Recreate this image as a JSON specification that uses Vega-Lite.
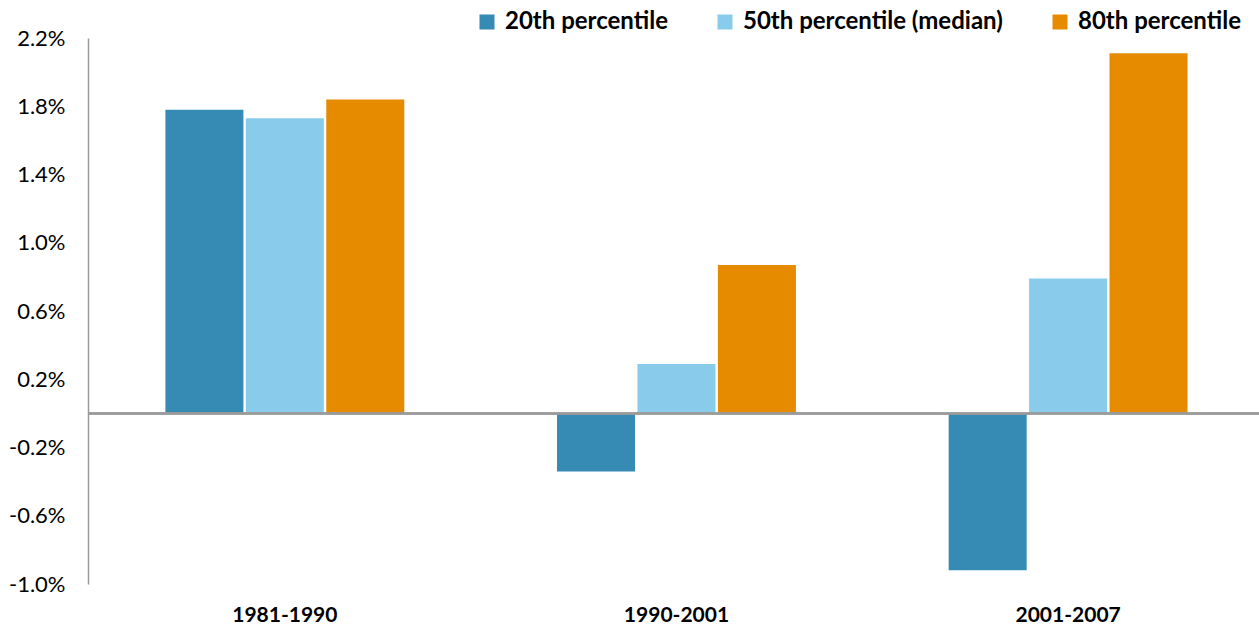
{
  "$schema": "https://vega.github.io/schema/vega-lite/v6.json",
  "width": 1171,
  "height": 546,
  "autosize": {"type": "none"},
  "padding": {"left": 88, "top": 38, "right": 0, "bottom": 42},
  "background": "white",
  "config": {
    "view": {"stroke": null},
    "font": "Lato"
  },
  "data": {
    "values": [
      {"period": "1981-1990", "series": "20th percentile", "value": 1.78},
      {"period": "1981-1990", "series": "50th percentile (median)", "value": 1.73},
      {"period": "1981-1990", "series": "80th percentile", "value": 1.84},
      {"period": "1990-2001", "series": "20th percentile", "value": -0.34},
      {"period": "1990-2001", "series": "50th percentile (median)", "value": 0.29},
      {"period": "1990-2001", "series": "80th percentile", "value": 0.87},
      {"period": "2001-2007", "series": "20th percentile", "value": -0.92},
      {"period": "2001-2007", "series": "50th percentile (median)", "value": 0.79},
      {"period": "2001-2007", "series": "80th percentile", "value": 2.11}
    ]
  },
  "layer": [
    {
      "mark": {"type": "bar"},
      "encoding": {
        "x": {
          "field": "period",
          "type": "nominal",
          "sort": null,
          "scale": {"paddingInner": 0.39, "paddingOuter": 0.19, "align": 0.52},
          "axis": {
            "title": null,
            "domain": false,
            "ticks": false,
            "labelAngle": 0,
            "labelFont": "Lato",
            "labelFontWeight": "bold",
            "labelFontSize": 21,
            "labelColor": "#000000",
            "labelPadding": 20
          }
        },
        "xOffset": {
          "field": "series",
          "type": "nominal",
          "sort": ["20th percentile", "50th percentile (median)", "80th percentile"],
          "scale": {"paddingInner": 0.03}
        },
        "y": {
          "field": "value",
          "type": "quantitative",
          "scale": {"domain": [-1.0, 2.2], "nice": false, "zero": false},
          "axis": {
            "title": null,
            "values": [-1.0, -0.6, -0.2, 0.2, 0.6, 1.0, 1.4, 1.8, 2.2],
            "labelExpr": "(datum.value < 0 ? '-' : '') + format(abs(datum.value), '.1f') + '%'",
            "grid": false,
            "ticks": false,
            "domain": true,
            "domainColor": "#9a9a9a",
            "domainWidth": 1.5,
            "labelFont": "Lato",
            "labelFontSize": 22,
            "labelColor": "#000000",
            "labelPadding": 23
          }
        },
        "color": {
          "field": "series",
          "type": "nominal",
          "scale": {
            "domain": ["20th percentile", "50th percentile (median)", "80th percentile"],
            "range": ["#358BB3", "#88CBEA", "#E68A00"]
          },
          "legend": {
            "title": null,
            "orient": "none",
            "direction": "horizontal",
            "legendX": 387,
            "legendY": -28,
            "symbolType": "square",
            "symbolSize": 225,
            "symbolStrokeWidth": 0,
            "labelFont": "Lato",
            "labelFontWeight": "bold",
            "labelFontSize": 24,
            "labelColor": "#000000",
            "labelLimit": 0,
            "labelOffset": 6,
            "columnPadding": 45
          }
        }
      }
    },
    {
      "mark": {"type": "rule", "color": "#9a9a9a", "strokeWidth": 1.5},
      "encoding": {"y": {"datum": 0}}
    }
  ]
}
